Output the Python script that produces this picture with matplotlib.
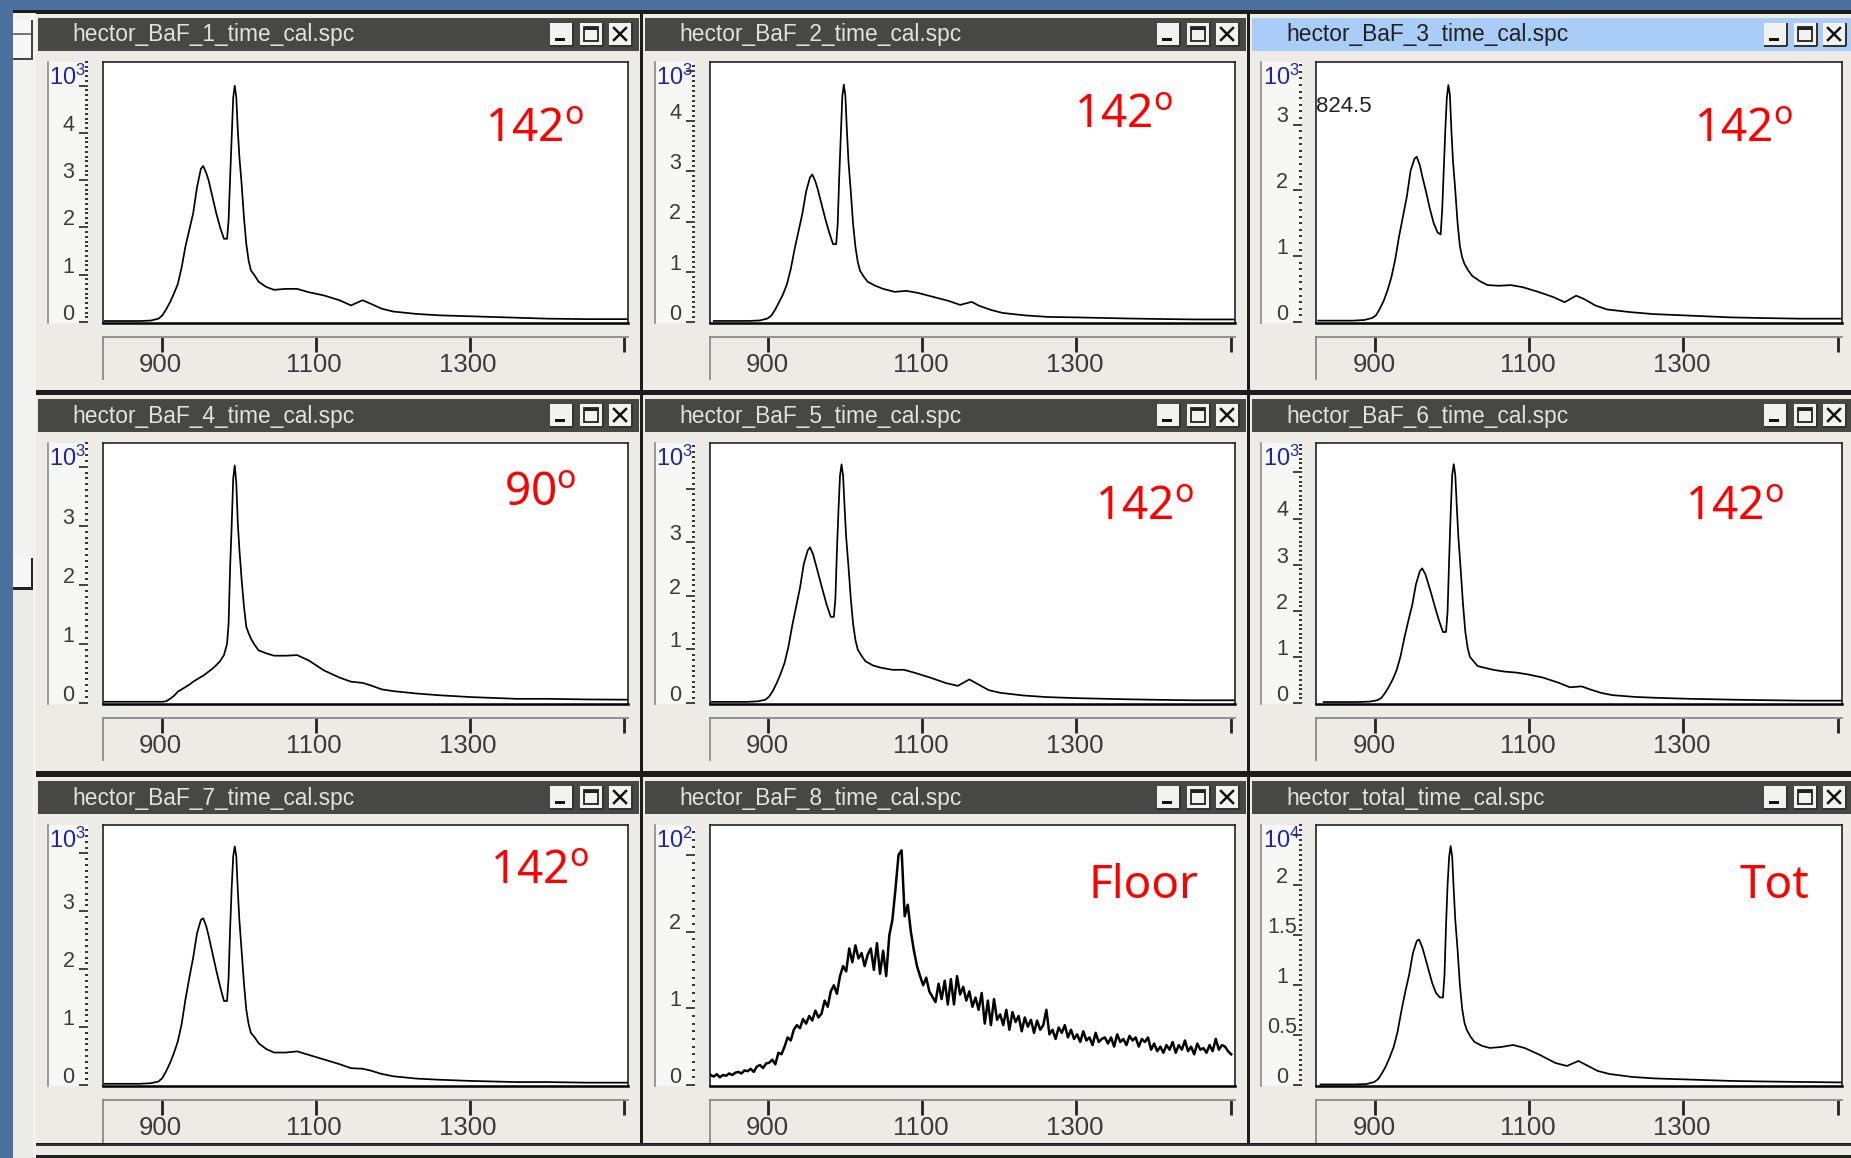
import numpy as np
import matplotlib
matplotlib.use("Agg")
import matplotlib.pyplot as plt
from matplotlib.patches import Rectangle
from matplotlib.ticker import FixedLocator, NullFormatter

W, H = 1851, 1158

titles = ["hector_BaF_1_time_cal.spc", "hector_BaF_2_time_cal.spc", "hector_BaF_3_time_cal.spc",
          "hector_BaF_4_time_cal.spc", "hector_BaF_5_time_cal.spc", "hector_BaF_6_time_cal.spc",
          "hector_BaF_7_time_cal.spc", "hector_BaF_8_time_cal.spc", "hector_total_time_cal.spc"]
angle_labels = ["142", "142", "142", "90", "142", "142", "142", "Floor", "Tot"]
exponents = [3, 3, 3, 3, 3, 3, 3, 2, 4]
y_tops = [5.5, 5.18, 3.95, 4.4, 4.86, 5.64, 4.49, 3.39, 2.6]
y_ticks = [[0, 1, 2, 3, 4, 5], [0, 1, 2, 3, 4, 5], [0, 1, 2, 3], [0, 1, 2, 3, 4], [0, 1, 2, 3, 4],
           [0, 1, 2, 3, 4, 5], [0, 1, 2, 3, 4], [0, 1, 2, 3], [0, 0.5, 1, 1.5, 2, 2.5]]
y_labels = [["0", "1", "2", "3", "4"], ["0", "1", "2", "3", "4"], ["0", "1", "2", "3"], ["0", "1", "2", "3"],
            ["0", "1", "2", "3"], ["0", "1", "2", "3", "4"], ["0", "1", "2", "3"], ["0", "1", "2"],
            ["0", "0.5", "1", "1.5", "2"]]
y_minor = [0.1, 0.1, 0.1, 0.1, 0.1, 0.1, 0.1, 0.1, 0.05]
x_ticks = [900, 1100, 1300, 1501]
x_tick_labels = ["900", "1100", "1300", ""]
x_limits = (823.5, 1506)
time_shift = [1, 4, 1, 1, 1, 8, 1, 0, 4]

times = [825, 850, 870, 885, 895, 900, 905, 910, 915, 920, 925, 930, 935, 940, 945, 950, 953, 957, 960, 965,
         970, 975, 980, 984, 986, 988, 990, 992, 994, 996, 998, 1000, 1003, 1006, 1009, 1012, 1015, 1020, 1025,
         1035, 1045, 1060, 1075, 1090, 1110, 1130, 1145, 1160, 1170, 1185, 1200, 1230, 1260, 1300, 1360, 1400,
         1450, 1505]

baf1 = [.02, .02, .02, .03, .07, .14, .27, .42, .6, .8, 1.15, 1.6, 1.95, 2.3, 2.85, 3.24, 3.3, 3.15, 3.0, 2.65,
        2.3, 2.0, 1.76, 1.76, 2.15, 3.05, 3.9, 4.75, 5.0, 4.75, 4.05, 3.5, 2.9, 2.2, 1.65, 1.3, 1.09, .98, .85,
        .74, .68, .7, .7, .63, .56, .46, .35, .46, .39, .28, .22, .17, .14, .12, .09, .07, .06, .06]
baf2 = [.02, .02, .02, .03, .07, .13, .25, .40, .55, .75, 1.05, 1.45, 1.80, 2.15, 2.60, 2.88, 2.94, 2.80, 2.65, 2.35,
        2.05, 1.78, 1.55, 1.55, 1.95, 2.90, 3.70, 4.50, 4.73, 4.50, 3.80, 3.20, 2.60, 1.95, 1.50, 1.20, 1.02, .90, .80,
        .72, .66, .60, .62, .58, .50, .42, .34, .40, .32, .24, .18, .13, .10, .09, .07, .06, .05, .05]
baf3 = [.02, .02, .02, .03, .06, .10, .20, .32, .48, .68, .95, 1.30, 1.60, 1.90, 2.30, 2.48, 2.51, 2.38, 2.22, 1.98,
        1.72, 1.50, 1.36, 1.33, 1.70, 2.30, 2.90, 3.40, 3.60, 3.45, 2.90, 2.45, 2.00, 1.50, 1.15, .98, .88, .78, .70,
        .62, .56, .55, .56, .53, .46, .38, .30, .40, .35, .25, .19, .15, .12, .10, .07, .06, .05, .05]
baf4 = [.02, .02, .02, .02, .02, .02, .03, .07, .12, .19, .23, .27, .31, .36, .40, .44, .46, .50, .53, .58,
        .64, .71, .81, 1.0, 1.34, 2.3, 3.0, 3.8, 4.02, 3.72, 3.04, 2.6, 2.08, 1.63, 1.29, 1.18, 1.09, .98, .89,
        .84, .80, .80, .81, .72, .55, .43, .36, .34, .30, .23, .20, .16, .13, .10, .07, .07, .06, .055]
baf5 = [.02, .02, .02, .03, .06, .12, .23, .38, .55, .75, 1.05, 1.45, 1.80, 2.15, 2.60, 2.85, 2.91, 2.78, 2.62, 2.35,
        2.08, 1.82, 1.61, 1.61, 1.95, 2.85, 3.60, 4.25, 4.46, 4.25, 3.65, 3.10, 2.55, 1.95, 1.48, 1.18, 1.00, .88, .78,
        .70, .66, .62, .62, .56, .47, .37, .32, .44, .36, .24, .19, .14, .11, .09, .07, .06, .05, .05]
baf6 = [.02, .02, .02, .03, .06, .11, .22, .36, .52, .72, 1.02, 1.42, 1.78, 2.12, 2.58, 2.86, 2.92, 2.80, 2.64, 2.36,
        2.06, 1.78, 1.54, 1.54, 1.98, 3.1, 4.1, 4.95, 5.18, 4.95, 4.25, 3.6, 2.9, 2.15, 1.55, 1.2, 1.0, .9, .8,
        .76, .72, .68, .66, .62, .55, .44, .34, .36, .30, .22, .17, .13, .11, .09, .07, .06, .05, .05]
baf7 = [.02, .02, .02, .03, .06, .12, .24, .38, .55, .75, 1.05, 1.48, 1.85, 2.2, 2.62, 2.85, 2.88, 2.74, 2.58, 2.28,
        1.98, 1.7, 1.45, 1.45, 1.85, 2.7, 3.4, 3.95, 4.12, 3.95, 3.35, 2.85, 2.3, 1.75, 1.3, 1.05, .9, .82, .72,
        .62, .56, .56, .58, .52, .44, .36, .29, .28, .25, .19, .15, .11, .09, .07, .05, .05, .04, .04]
total = [.005, .005, .005, .01, .03, .06, .12, .19, .28, .38, .53, .74, .93, 1.1, 1.32, 1.44, 1.455, 1.38, 1.3, 1.16,
         1.02, .92, .875, .875, 1.1, 1.6, 2.0, 2.28, 2.39, 2.28, 1.95, 1.65, 1.35, 1.0, .76, .62, .55, .48, .43,
         .39, .37, .38, .4, .37, .3, .22, .19, .24, .2, .14, .11, .08, .065, .055, .04, .035, .03, .025]

floor_start, floor_bin = 825, 4
floor_counts = [.13, .11, .14, .10, .13, .12, .15, .13, .16,
                .17, .15, .19, .18, .21, .17, .24, .26, .22, .28,
                .29, .33, .27, .42, .40, .50, .62, .58, .72, .78,
                .74, .86, .80, .90, .84, .97, .88, .93, 1.10, 1.02,
                1.22, 1.30, 1.19, 1.42, 1.55, 1.48, 1.78, 1.60, 1.82, 1.65,
                1.72, 1.55, 1.70, 1.78, 1.50, 1.85, 1.45, 1.75, 1.42,
                1.95, 2.15, 2.55, 3.0, 3.06, 2.2, 2.35, 2.0, 1.75, 1.55, 1.42,
                1.30, 1.40, 1.22, 1.15, 1.08, 1.32, 1.12, 1.36, 1.05, 1.38,
                1.05, 1.42, 1.18, 1.28, 1.10, 1.22, 1.02, 1.14, .98, 1.20,
                .80, 1.10, .78, 1.12, .85, .92, .78, .98, .72, .95,
                .82, .90, .70, .88, .76, .85, .68, .84, .72, .78,
                .98, .66, .72, .60, .75, .68, .78, .62, .72, .60,
                .66, .56, .70, .58, .62, .52, .68, .56, .60, .62,
                .54, .62, .50, .66, .56, .60, .52, .64, .58, .62,
                .50, .60, .56, .62, .46, .54, .44, .50, .42, .52,
                .46, .56, .42, .52, .46, .58, .44, .50, .40, .54,
                .46, .48, .42, .52, .44, .60, .46, .52, .50, .44, .40]

series = [baf1, baf2, baf3, baf4, baf5, baf6, baf7, floor_counts, total]

BLUE = "#4b6f9e"
CHROME = "#ecebe6"
DARKBAR = "#474746"
ACTIVE = "#a9cdf7"
DARK = "#1c1c1c"
TEXT = "#3a3a3a"
LINEW = 1.25
UI_FONT = "Liberation Sans"

col_left = [102.7, 709.5, 1316.3]
row_top = [62, 443, 825]
plot_w, plot_h = 525.5, 261
win_left = [36, 643, 1250]
win_w = 603


def axes_px(x0, y0, w, h, **kw):
    return fig.add_axes([x0 / W, 1 - (y0 + h) / H, w / W, h / H], **kw)


fig = plt.figure(figsize=(W / 100, H / 100), dpi=100, facecolor=BLUE)

bg = axes_px(0, 0, W, H)
bg.set_xlim(0, W)
bg.set_ylim(H, 0)
bg.axis("off")
bg.set_zorder(0)


def rect(x, y, w, h, color, z=1, **kw):
    bg.add_patch(Rectangle((x, y), w, h, facecolor=color, edgecolor="none", zorder=z, **kw))


# desktop and outer strips
rect(12.5, 10, W, H, DARK)
rect(12.5, 13, 20, H, "#f3f2ef", z=1.1)
rect(12.5, 20, 20, 38, "#f7f7f7", z=1.2)
rect(12.5, 33, 20, 1.5, "#777777", z=1.3)
rect(12.5, 58, 20, 1.5, "#444444", z=1.3)
rect(31, 20, 1.5, 38, "#444444", z=1.3)
rect(12.5, 558, 20, 30, "#f7f7f7", z=1.2)
rect(12.5, 587, 20, 2.5, "#222222", z=1.3)
rect(31, 558, 1.5, 30, "#222222", z=1.3)
rect(12.5, 590, 20, H, "#ecebe6", z=1.2)
rect(33, 13, 3, H, "#f3f2ef", z=1.1)

title_h = 33
for r in range(3):
    top = row_top[r] - 44
    win_bottom = [390, 771, 1143][r]
    for c in range(3):
        i = r * 3 + c
        x0 = win_left[c]
        rect(x0, top - 4, win_w + 1, win_bottom - top + 4, CHROME, z=2)
        active = i == 2
        rect(x0 + 2, top, win_w - 2, title_h, ACTIVE if active else DARKBAR, z=3)
        bg.text(x0 + 36, top + title_h / 2 + 0.5, titles[i], color="#202020" if active else "#e2e2e0",
                fontsize=16.4, family=UI_FONT, va="center", ha="left", zorder=5)
        # window buttons
        for k, bx in enumerate([514, 544, 573]):
            bx0 = x0 + bx
            by0 = top + 5
            rect(bx0, by0, 23, 23, "#f2f2f0", z=4)
            rect(bx0 + 21.5, by0, 2, 23, "#333333", z=4.1)
            rect(bx0, by0 + 21.5, 23, 2, "#333333", z=4.1)
            if k == 0:
                rect(bx0 + 5, by0 + 15, 10, 3, "#111111", z=4.2)
            elif k == 1:
                bg.add_patch(Rectangle((bx0 + 4, by0 + 4), 14, 14, facecolor="none", edgecolor="#222222",
                                       linewidth=1.3, zorder=4.2))
                rect(bx0 + 4, by0 + 4, 14, 3, "#222222", z=4.2)
            else:
                bg.plot([bx0 + 5, bx0 + 17], [by0 + 5, by0 + 17], color="#111111", lw=1.8, zorder=4.2)
                bg.plot([bx0 + 5, bx0 + 17], [by0 + 17, by0 + 5], color="#111111", lw=1.8, zorder=4.2)

rect(36, 1146, W, 9, CHROME, z=2.5)
rect(36, 1144, W, 1.5, "#333333", z=2.6)
rect(36, 1155, W, 3, "#222222", z=2.6)

for i in range(9):
    r, c = divmod(i, 3)
    left, top = col_left[c], row_top[r]
    ymax = y_tops[i]
    ylim = (-0.004 * ymax, ymax)

    ax = axes_px(left, top, plot_w, plot_h)
    ax.set_zorder(3)
    ax.set_facecolor("white")
    if i == 7:
        xs = floor_start + floor_bin * np.arange(len(floor_counts))
        ax.plot(xs, series[i], color="black", lw=1.8)
    else:
        ax.plot(np.array(times) + time_shift[i], series[i], color="black", lw=LINEW)
    ax.set_xlim(*x_limits)
    ax.set_ylim(*ylim)
    ax.set_xticks([])
    ax.set_yticks([])
    for name, sp in ax.spines.items():
        sp.set_linewidth(1.2)
        sp.set_color("#222222")
    ax.spines["bottom"].set_linewidth(1.8)
    ax.spines["bottom"].set_color("#000000")

    # y scale strip
    ys = axes_px(left - 55, top, 40.5, plot_h)
    ys.set_zorder(2)
    ys.set_facecolor("#f7f7f5")
    ys.set_xlim(0, 1)
    ys.set_ylim(*ylim)
    ys.set_xticks([])
    ys.yaxis.tick_right()
    ys.yaxis.set_major_locator(FixedLocator(y_ticks[i]))
    ys.yaxis.set_major_formatter(NullFormatter())
    n = int(round(ymax / y_minor[i])) + 1
    ys.yaxis.set_minor_locator(FixedLocator(np.arange(n) * y_minor[i]))
    ys.yaxis.set_minor_formatter(NullFormatter())
    ys.tick_params(axis="y", which="major", direction="in", length=6.5, width=1.2, color="#222222")
    ys.tick_params(axis="y", which="minor", direction="in", length=2.2, width=1.3, color="#222222")
    for name, sp in ys.spines.items():
        sp.set_visible(name == "left")
    ys.spines["left"].set_color("#8a8a8a")
    ys.spines["left"].set_linewidth(1.2)
    for tick_value, lab in zip(y_ticks[i], y_labels[i]):
        ys.annotate(lab, xy=(1, tick_value), xycoords=ys.get_yaxis_transform(), xytext=(-14.2, 5.5),
                    textcoords="offset points", ha="center", va="center", fontsize=15.5, color=TEXT,
                    family=UI_FONT, annotation_clip=False)
    ys.text(0.03, 1 - 15 / plot_h, r"$\mathregular{10^{%d}}$" % exponents[i], transform=ys.transAxes,
            color="#24249a", fontsize=17, family=UI_FONT, ha="left", va="center")

    # x scale strip
    xsx = axes_px(left, top + 275, plot_w, 42)
    xsx.set_zorder(2)
    xsx.set_facecolor(CHROME)
    xsx.set_xlim(*x_limits)
    xsx.set_ylim(0, 1)
    xsx.set_yticks([])
    xsx.xaxis.tick_top()
    xsx.set_xticks(x_ticks)
    xsx.xaxis.set_major_formatter(NullFormatter())
    xsx.tick_params(axis="x", direction="in", length=11, width=2, color="#222222")
    for name, sp in xsx.spines.items():
        sp.set_visible(name in ("left", "top"))
        sp.set_color("#8a8a8a")
        sp.set_linewidth(1.3)
    for tick_value, lab in zip(x_ticks, x_tick_labels):
        xsx.annotate(lab, xy=(tick_value, 1), xycoords=xsx.get_xaxis_transform(), xytext=(-1.0, -20.3),
                     textcoords="offset points", ha="center", va="center", fontsize=18.5, color=TEXT, family=UI_FONT)

# annotations above the traces
over = axes_px(0, 0, W, H)
over.set_xlim(0, W)
over.set_ylim(H, 0)
over.axis("off")
over.patch.set_alpha(0)
over.set_zorder(6)
label_pos = [(534, 130), (1123, 115), (1743, 130), (540, 493), (1144, 508), (1734, 508), (539, 871), (1143, 886),
             (1774, 886)]
for lab, (lx, ly) in zip(angle_labels, label_pos):
    txt = lab if lab in ("Floor", "Tot") else r"$\mathregular{%s^{o}}$" % lab
    over.text(lx, ly, txt, color="#ff0000", fontsize=33, family="Noto Sans", ha="center", va="center")
over.text(1316, 107, "824.5", color="#222222", fontsize=16, family=UI_FONT, ha="left", va="center")

fig.savefig("out.png", dpi=100, facecolor=fig.get_facecolor())
